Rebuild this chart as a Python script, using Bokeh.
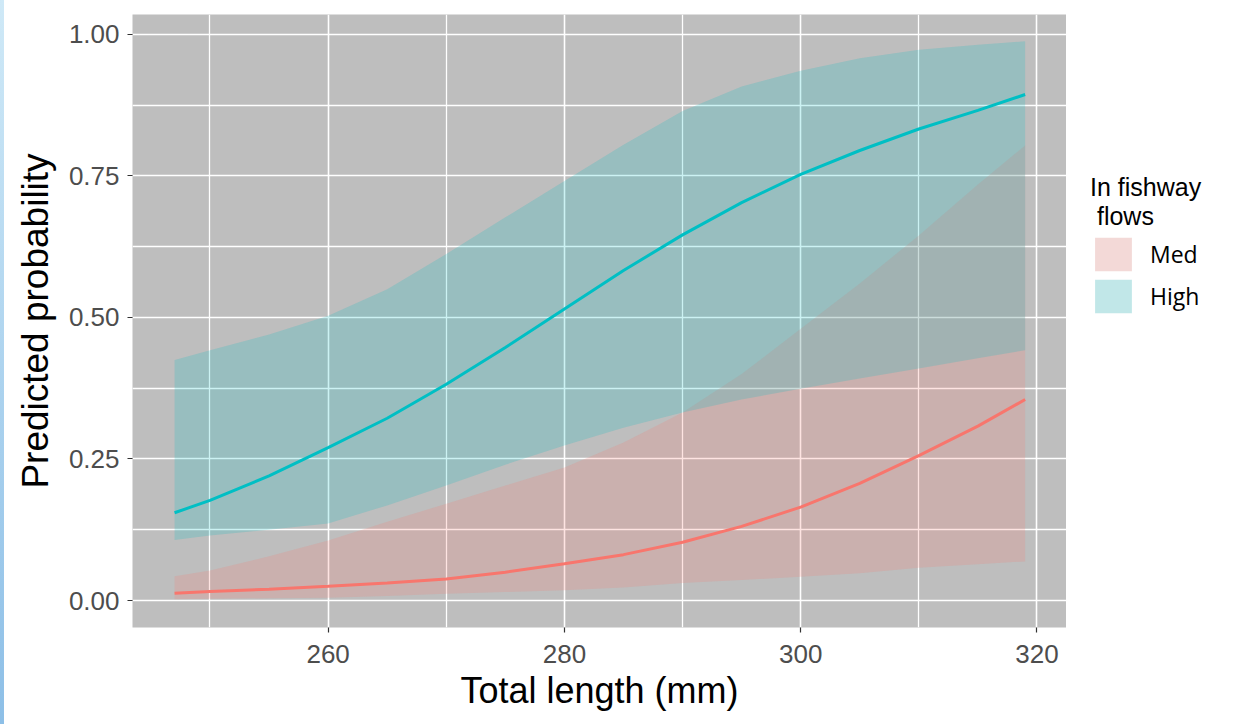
from bokeh.plotting import figure
from bokeh.models import (FixedTicker, PrintfTickFormatter, Legend, LegendItem, Range1d)
from bokeh.layouts import row
from bokeh.embed import file_html
from bokeh.resources import INLINE

# Total length (mm) at which predictions were evaluated
total_length = [247, 250, 255, 260, 265, 270, 275, 280, 285, 290, 295, 300, 305, 310, 315, 319]

# Medium fishway flows: predicted probability and 95% interval
med_fit = [0.013, 0.016, 0.020, 0.025, 0.031, 0.038, 0.050, 0.065, 0.081, 0.103,
           0.131, 0.165, 0.207, 0.256, 0.308, 0.355]
med_lower = [0.002, 0.003, 0.004, 0.005, 0.008, 0.012, 0.015, 0.018, 0.023, 0.031,
             0.036, 0.042, 0.048, 0.058, 0.064, 0.069]
med_upper = [0.043, 0.053, 0.078, 0.106, 0.139, 0.171, 0.203, 0.235, 0.279, 0.332,
             0.400, 0.480, 0.560, 0.645, 0.735, 0.804]

# High fishway flows: predicted probability and 95% interval
high_fit = [0.155, 0.177, 0.220, 0.270, 0.322, 0.382, 0.447, 0.515, 0.583, 0.646,
            0.703, 0.753, 0.795, 0.833, 0.866, 0.894]
high_lower = [0.107, 0.115, 0.125, 0.136, 0.168, 0.203, 0.240, 0.274, 0.305, 0.332,
              0.355, 0.374, 0.392, 0.410, 0.428, 0.442]
high_upper = [0.425, 0.442, 0.470, 0.503, 0.550, 0.612, 0.677, 0.741, 0.805, 0.865,
              0.908, 0.936, 0.958, 0.973, 0.982, 0.988]

flow_levels = ["Med", "High"]
x_ticks = [260, 280, 300, 320]
x_minor = [250, 270, 290, 310]
y_ticks = [0.0, 0.25, 0.50, 0.75, 1.00]
y_minor = [0.125, 0.375, 0.625, 0.875]

MED_COLOR = "#F8766D"
HIGH_COLOR = "#00BFC4"
FONT = "Liberation Sans"

bands = {
    "Med": (med_lower, med_upper, MED_COLOR),
    "High": (high_lower, high_upper, HIGH_COLOR),
}

# ---- main panel -------------------------------------------------------------
p = figure(width=1066, height=724,
           x_range=Range1d(243.44, 322.50), y_range=Range1d(-0.0477, 1.0353),
           output_backend="svg", toolbar_location=None,
           min_border_left=132, min_border_right=0,
           min_border_top=14, min_border_bottom=97)

p.background_fill_color = "#bebebe"
p.border_fill_color = None
p.outline_line_color = None
# thin blue strip down the left edge of the page
p.styles = {"background": "linear-gradient(to bottom, #cfe9f7, #8dbfe7) 0 0 / 4px 100% no-repeat, white"}

# axes
p.xaxis.ticker = FixedTicker(ticks=x_ticks, minor_ticks=x_minor)
p.yaxis.ticker = FixedTicker(ticks=y_ticks, minor_ticks=y_minor)
p.yaxis.formatter = PrintfTickFormatter(format="%.2f")
for ax in (p.xaxis, p.yaxis):
    ax.axis_line_color = None
    ax.major_tick_line_color = "#333333"
    ax.major_tick_line_width = 1.2
    ax.major_tick_out = 5
    ax.major_tick_in = 0
    ax.minor_tick_line_color = None
    ax.major_label_text_font = FONT
    ax.major_label_text_font_size = "26px"
    ax.major_label_text_color = "#4d4d4d"
    ax.axis_label_text_font = FONT
    ax.axis_label_text_font_style = "normal"
    ax.axis_label_text_color = "black"
p.xaxis.axis_label = "Total length (mm)"
p.yaxis.axis_label = "Predicted probability"
p.xaxis.axis_label_text_font_size = "36px"
p.yaxis.axis_label_text_font_size = "37px"
p.xaxis.major_label_standoff = 12
p.yaxis.major_label_standoff = 8
p.xaxis.axis_label_standoff = 4
p.yaxis.axis_label_standoff = 10

# grid
for g in (p.xgrid, p.ygrid):
    g.grid_line_color = "white"
    g.grid_line_width = 1.6
    g.minor_grid_line_color = "white"
    g.minor_grid_line_width = 1.3

# confidence ribbons
for level in flow_levels:
    lower, upper, color = bands[level]
    p.varea(x=total_length, y1=lower, y2=upper, fill_color=color, fill_alpha=0.2)

# fitted curves
p.line(total_length, med_fit, line_color=MED_COLOR, line_width=3)
p.line(total_length, high_fit, line_color=HIGH_COLOR, line_width=3)

# ---- legend column ----------------------------------------------------------
# The legend sits in its own narrow figure beside the panel; its ranges keep
# the ribbons it refers to out of view, so only the legend keys show.
lg = figure(width=176, height=724, x_range=Range1d(0, 1), y_range=Range1d(0, 1),
            x_axis_type=None, y_axis_type=None,
            output_backend="svg", toolbar_location=None, min_border=0)
lg.grid.visible = False
lg.outline_line_color = None
lg.background_fill_color = None
lg.border_fill_color = None

items = []
for level in flow_levels:
    lower, upper, color = bands[level]
    key_bg = lg.varea(x=total_length, y1=lower, y2=upper, fill_color="#F2F2F2", fill_alpha=1.0)
    key_fill = lg.varea(x=total_length, y1=lower, y2=upper, fill_color=color, fill_alpha=0.2)
    items.append(LegendItem(label=level, renderers=[key_bg, key_fill]))

legend = Legend(
    items=items,
    title="In fishway\n flows",
    location=(24, 310),
    title_text_font=FONT, title_text_font_size="25px", title_text_font_style="normal",
    title_text_color="black", title_standoff=2,
    label_text_font="Open Sans", label_text_font_size="23px", label_text_color="black",
    glyph_width=46, glyph_height=42, label_standoff=14, spacing=0, padding=0, margin=0,
    border_line_color=None, background_fill_alpha=0,
)
lg.add_layout(legend)

layout = row(p, lg)
open("out.html", "w").write(file_html(layout, INLINE))
